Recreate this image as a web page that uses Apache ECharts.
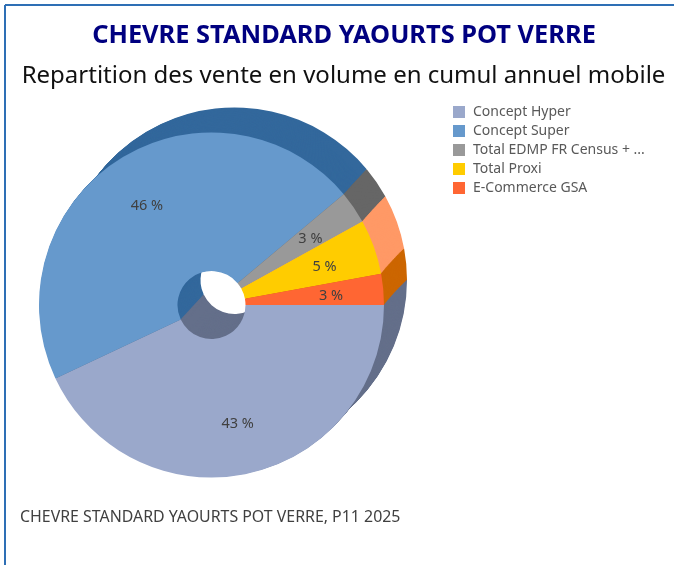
<!DOCTYPE html>
<html>
<head>
<meta charset="utf-8">
<style>html,body{margin:0;padding:0;background:#fff}#c{width:674px;height:565px}</style>
<script src="https://cdn.jsdelivr.net/npm/echarts@6/dist/echarts.min.js"></script>
</head>
<body>
<div id="c"></div>
<script>
const categories = ['Concept Hyper', 'Concept Super', 'Total EDMP FR Census + ...', 'Total Proxi', 'E-Commerce GSA'];
const shares = [43, 45.9, 3.05, 5.15, 2.9];
const faceColors = ['#9AA8CB', '#6699CC', '#999999', '#FFCC00', '#FF6633'];
const sideColors = ['#646F8A', '#33689C', '#666666', '#FF9966', '#CC6600'];
const titleText = 'CHEVRE STANDARD YAOURTS POT VERRE';
const subtitleText = 'Repartition des vente en volume en cumul annuel mobile';
const footerText = 'CHEVRE STANDARD YAOURTS POT VERRE, P11 2025';
const FONT = 'Noto Sans';

const build = colors => categories.map((name, i) => ({
  name, value: shares[i], itemStyle: { color: colors ? colors[i] : 'rgba(0,0,0,0)' }
}));
const pieBase = { type: 'pie', startAngle: 0, clockwise: true, silent: true, animation: false,
  avoidLabelOverlap: false, labelLine: { show: false }, emphasis: { disabled: true } };

// Extruded side: the same donut repeated from the back position to the front one.
// Intermediate radii stay inside the union of the back and front discs.
const front = [211.5, 305], back = [234.5, 280], R = 172.5, STEPS = 40;
const span = Math.hypot(front[0] - back[0], front[1] - back[1]);
const halfChord = Math.sqrt(R * R - span * span / 4);
const sideLayers = [];
for (let k = 0; k < STEPS; k++) {
  const t = k / STEPS;
  const off = Math.abs(t - 0.5) * span;
  sideLayers.push(Object.assign({}, pieBase, {
    name: 'side' + k, z: 1,
    center: [back[0] + (front[0] - back[0]) * t, back[1] + (front[1] - back[1]) * t],
    radius: [34, Math.sqrt(halfChord * halfChord + off * off)],
    data: build(sideColors), label: { show: false }
  }));
}

const chart = echarts.init(document.getElementById('c'), null, { renderer: 'canvas' });
chart.setOption({
  backgroundColor: '#ffffff',
  animation: false,
  title: [
    { text: titleText, left: 344, top: 23, padding: 0, textAlign: 'center',
      textStyle: { fontFamily: FONT, fontWeight: 700, fontSize: 25.4, color: '#000080' } },
    { text: subtitleText, left: 343.5, top: 64, padding: 0, textAlign: 'center',
      textStyle: { fontFamily: FONT, fontWeight: 400, fontSize: 24, color: '#111111' } },
    { text: footerText, left: 20, top: 509, padding: 0,
      textStyle: { fontFamily: FONT, fontWeight: 400, fontSize: 15.9, color: '#404040' } }
  ],
  legend: {
    orient: 'vertical', left: 453, top: 105, padding: 0, itemWidth: 12, itemHeight: 12, itemGap: 5,
    icon: 'rect', data: categories, selectedMode: false,
    textStyle: { fontFamily: FONT, fontSize: 14, color: '#595959', padding: [0, 0, 0, 3] }
  },
  graphic: [
    { type: 'line', z: 10, silent: true, shape: { x1: 5, y1: 5, x2: 674, y2: 5 }, style: { stroke: '#2E6FB5', lineWidth: 2 } },
    { type: 'line', z: 10, silent: true, shape: { x1: 5, y1: 5, x2: 5, y2: 565 }, style: { stroke: '#2E6FB5', lineWidth: 2 } }
  ],
  series: [
    Object.assign({}, pieBase, { name: 'face', z: 3, center: front, radius: [34, R],
      data: build(faceColors), label: { show: false } })
  ].concat(sideLayers, [
    Object.assign({}, pieBase, { name: 'labels', z: 5, center: [front[0], front[1] + 2], radius: [62, 172],
      percentPrecision: 0, data: build(null),
      label: { show: true, position: 'inside', formatter: '{d} %', fontFamily: FONT, fontSize: 14.5, color: '#404040' } })
  ])
});
</script>
</body>
</html>
